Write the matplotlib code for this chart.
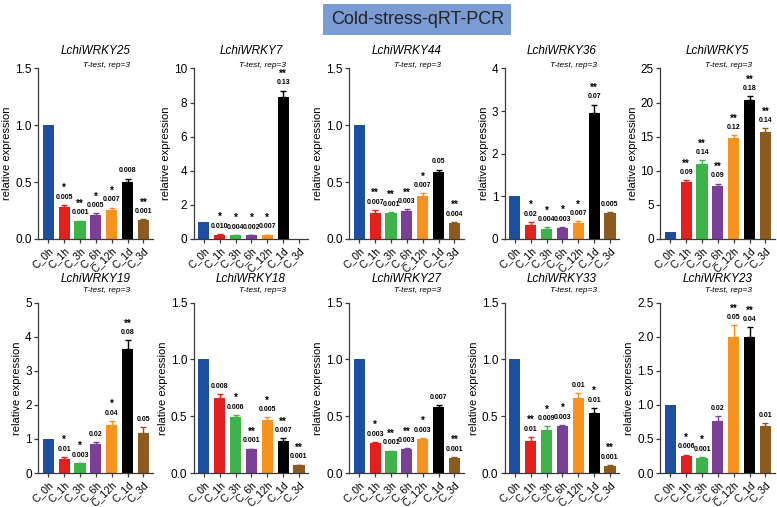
import matplotlib
matplotlib.use("Agg")
from matplotlib import pyplot as plt
import numpy as np

plt.rcParams['font.family'] = ['Liberation Sans', 'DejaVu Sans']

# groups and colours
groups = ["C_0h", "C_1h", "C_3h", "C_6h", "C_12h", "C_1d", "C_3d"]
colors = ["#1c4fa0", "#e3201b", "#3cb449", "#7b3f98", "#f7921e", "#000000", "#8c5a1e"]

genes = ["LchiWRKY25", "LchiWRKY7", "LchiWRKY44", "LchiWRKY36", "LchiWRKY5",
         "LchiWRKY19", "LchiWRKY18", "LchiWRKY27", "LchiWRKY33", "LchiWRKY23"]

means = [
    [1.0, 0.28, 0.155, 0.21, 0.25, 0.50, 0.165],
    [1.0, 0.25, 0.20, 0.20, 0.22, 8.3, 0.0],
    [1.0, 0.23, 0.23, 0.245, 0.375, 0.59, 0.135],
    [1.0, 0.33, 0.24, 0.26, 0.37, 2.95, 0.60],
    [1.0, 8.3, 11.0, 7.7, 14.8, 20.3, 15.7],
    [1.0, 0.42, 0.28, 0.85, 1.40, 3.65, 1.18],
    [1.0, 0.665, 0.49, 0.21, 0.47, 0.28, 0.07],
    [1.0, 0.265, 0.19, 0.21, 0.30, 0.58, 0.135],
    [1.0, 0.28, 0.375, 0.41, 0.66, 0.53, 0.065],
    [1.0, 0.245, 0.225, 0.77, 2.0, 1.99, 0.69],
]

errs = [
    [0, 0.02, 0.005, 0.015, 0.025, 0.03, 0.005],
    [0, 0.05, 0.02, 0.02, 0.03, 0.40, 0],
    [0, 0.025, 0.005, 0.015, 0.025, 0.02, 0.015],
    [0, 0.07, 0.03, 0.02, 0.04, 0.20, 0.03],
    [0, 0.3, 0.5, 0.4, 0.4, 0.6, 0.5],
    [0, 0.06, 0.02, 0.07, 0.13, 0.25, 0.17],
    [0, 0.03, 0.02, 0.005, 0.02, 0.025, 0.005],
    [0, 0.008, 0.008, 0.008, 0.01, 0.015, 0.008],
    [0, 0.04, 0.035, 0.015, 0.045, 0.045, 0.005],
    [0, 0.025, 0.01, 0.06, 0.17, 0.15, 0.04],
]

stars = [
    ["", "*", "**", "*", "*", "", "**"],
    ["", "*", "*", "*", "*", "**", ""],
    ["", "**", "**", "**", "*", "", "**"],
    ["", "*", "*", "*", "*", "**", ""],
    ["", "**", "**", "**", "**", "**", "**"],
    ["", "*", "*", "", "*", "**", ""],
    ["", "", "*", "**", "*", "**", "**"],
    ["", "*", "**", "**", "*", "", "**"],
    ["", "**", "*", "*", "", "*", "**"],
    ["", "*", "*", "", "**", "**", ""],
]

pvals = [
    ["", "0.005", "0.001", "0.005", "0.007", "0.008", "0.001"],
    ["", "0.010", "0.004", "0.002", "0.007", "0.13", ""],
    ["", "0.007", "0.001", "0.003", "0.007", "0.05", "0.004"],
    ["", "0.02", "0.004", "0.003", "0.007", "0.07", "0.005"],
    ["", "0.09", "0.14", "0.09", "0.12", "0.18", "0.14"],
    ["", "0.01", "0.003", "0.02", "0.04", "0.08", "0.05"],
    ["", "0.008", "0.006", "0.001", "0.005", "0.007", "0.001"],
    ["", "0.003", "0.001", "0.003", "0.003", "0.007", "0.001"],
    ["", "0.01", "0.009", "0.003", "0.01", "0.01", "0.001"],
    ["", "0.006", "0.001", "0.02", "0.05", "0.04", "0.01"],
]

ymax = [1.5, 10, 1.5, 4, 25, 5, 1.5, 1.5, 1.5, 2.5]
ystep = [0.5, 2, 0.5, 1, 5, 1, 0.5, 0.5, 0.5, 0.5]

fig = plt.figure(figsize=(7.77, 5.07), dpi=100)

# title box
fig.text(0.537, 0.962, "Cold-stress-qRT-PCR", ha="center", va="center", fontsize=13,
         color="#222222", bbox=dict(boxstyle="square,pad=0.4", fc="#7b9bd3", ec="none"))

x = np.arange(len(groups))
W, H = 0.148, 0.336
spine_c = "#3a3a3a"

for i, gene in enumerate(genes):
    row, col = divmod(i, 5)
    left = (38 + col * 155.5) / 777
    bottom = 0.529 if row == 0 else 0.067
    ax = fig.add_axes([left, bottom, W, H])

    m = np.array(means[i])
    e = np.array(errs[i])
    ax.bar(x, m, width=0.7, color=colors, edgecolor="none", zorder=2)
    for j in range(len(groups)):
        if e[j] > 0:
            ax.errorbar(x[j], m[j], yerr=[[0], [e[j]]], fmt="none", ecolor=colors[j],
                        elinewidth=1.0, capsize=2.5, capthick=1.0, zorder=1)
        top = m[j] + e[j]
        if pvals[i][j]:
            ax.annotate(pvals[i][j], (x[j], top), xytext=(0, 3), textcoords="offset points",
                        ha="center", va="bottom", fontsize=5, fontweight="bold")
        if stars[i][j]:
            ax.annotate(stars[i][j], (x[j], top), xytext=(0, 8.5 if pvals[i][j] else 3),
                        textcoords="offset points", ha="center", va="bottom",
                        fontsize=7, fontweight="bold")

    ax.set_xlim(-0.65, 6.6)
    ax.set_ylim(0, ymax[i])
    ax.set_yticks(np.arange(0, ymax[i] + ystep[i] / 2, ystep[i]))
    if ystep[i] < 1:
        ax.set_yticklabels([f"{v:.1f}" for v in ax.get_yticks()])
    ax.set_xticks(x)
    ax.set_xticklabels(groups, rotation=45, ha="right", rotation_mode="anchor", fontsize=7.5)
    ax.tick_params(axis="y", labelsize=8.5, length=3, width=0.9, color=spine_c, pad=1.5)
    ax.tick_params(axis="x", length=3, width=0.9, color=spine_c, pad=1.5)
    for s in ["top", "right"]:
        ax.spines[s].set_visible(False)
    for s in ["left", "bottom"]:
        ax.spines[s].set_color(spine_c)
        ax.spines[s].set_linewidth(0.9)
    ax.set_ylabel("relative expression", fontsize=8, labelpad=2)

    ty = 1.1 if row == 0 else 1.14
    ax.text(0.5, ty, gene, transform=ax.transAxes, ha="center", va="center",
            fontsize=8.5, style="italic")
    ax.text(0.6, 1.02 if row == 0 else 1.07, "T-test, rep=3", transform=ax.transAxes,
            ha="center", va="center", fontsize=6, style="italic")

fig.savefig("out.png", dpi=100)
